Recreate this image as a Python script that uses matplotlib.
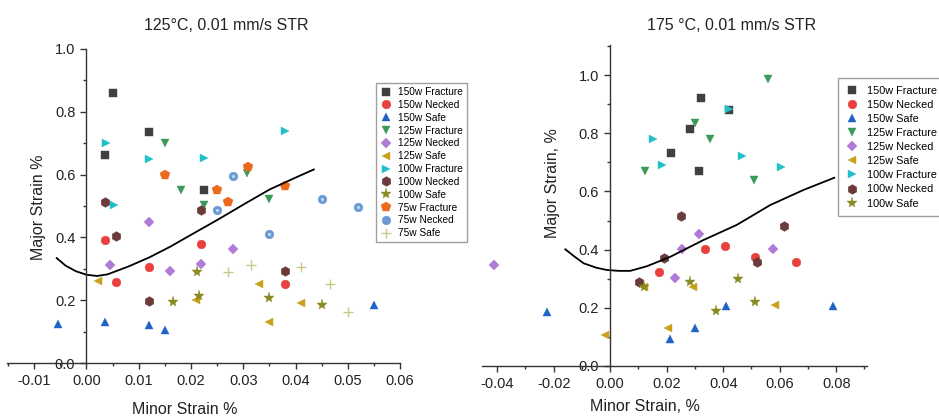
import numpy as np
import matplotlib
matplotlib.use("Agg")
import matplotlib.pyplot as plt
from matplotlib.ticker import MultipleLocator, FormatStrFormatter

plt.rcParams['font.family'] = ['Liberation Sans', 'DejaVu Sans']

# -------------------------------------------------------
# series styles (label, marker, colour)
# -------------------------------------------------------
labels = ["150w Fracture", "150w Necked", "150w Safe",
          "125w Fracture", "125w Necked", "125w Safe",
          "100w Fracture", "100w Necked", "100w Safe",
          "75w Fracture", "75w Necked", "75w Safe"]
markers = ["s", "o", "^", "v", "D", "<", ">", "h", "*", "p", "o", "+"]
colors = ["#404040", "#e8403f", "#1f63c6", "#3a9a5a", "#b07ad8", "#c9a01c",
          "#1fc0c8", "#6b3a3a", "#8a8a22", "#ec6a1c", "#6a9ad4", "#c8c88a"]
msize = {"s": 5.5, "o": 6.3, "^": 6.3, "v": 6.3, "D": 4.8, "<": 6.3,
         ">": 6.3, "h": 7.0, "*": 8.0, "p": 7.2, "+": 7.0}

# -------------------------------------------------------
# 125 C data (minor, major)
# -------------------------------------------------------
left_x = [
    [0.005, 0.0035, 0.012, 0.0225],
    [0.0035, 0.0056, 0.012, 0.022, 0.038],
    [-0.0054, 0.0035, 0.012, 0.015, 0.055],
    [0.015, 0.018, 0.0225, 0.0307, 0.035],
    [0.0045, 0.012, 0.016, 0.022, 0.028],
    [0.0023, 0.021, 0.033, 0.035, 0.041],
    [0.0037, 0.0052, 0.012, 0.0225, 0.038],
    [0.0035, 0.0056, 0.012, 0.022, 0.038],
    [0.0165, 0.0212, 0.0216, 0.035, 0.045],
    [0.015, 0.025, 0.027, 0.0309, 0.038],
    [0.025, 0.028, 0.035, 0.045, 0.052],
    [0.0271, 0.0315, 0.041, 0.0466, 0.050],
]
left_y = [
    [0.86, 0.661, 0.735, 0.552],
    [0.393, 0.258, 0.306, 0.379, 0.253],
    [0.124, 0.130, 0.120, 0.104, 0.185],
    [0.70, 0.552, 0.502, 0.605, 0.522],
    [0.313, 0.449, 0.293, 0.314, 0.364],
    [0.26, 0.199, 0.253, 0.132, 0.192],
    [0.70, 0.502, 0.648, 0.653, 0.739],
    [0.513, 0.403, 0.196, 0.488, 0.294],
    [0.193, 0.289, 0.212, 0.207, 0.184],
    [0.60, 0.552, 0.513, 0.623, 0.563],
    [0.488, 0.594, 0.412, 0.522, 0.497],
    [0.289, 0.312, 0.307, 0.253, 0.161],
]
left_flc_x = [-0.0057, -0.004, -0.002, 0.0, 0.002, 0.004, 0.008, 0.012,
              0.016, 0.02, 0.025, 0.03, 0.035, 0.04, 0.0435]
left_flc_y = [0.334, 0.31, 0.292, 0.281, 0.277, 0.282, 0.307, 0.336,
              0.37, 0.408, 0.455, 0.504, 0.552, 0.59, 0.616]

# -------------------------------------------------------
# 175 C data (minor, major)
# -------------------------------------------------------
right_x = [
    [0.0322, 0.0284, 0.0215, 0.0315, 0.0419],
    [0.0172, 0.0334, 0.0405, 0.0512, 0.0656],
    [-0.0225, 0.0212, 0.0299, 0.041, 0.0788],
    [0.0122, 0.0299, 0.0352, 0.051, 0.056],
    [-0.0413, 0.0228, 0.0254, 0.0314, 0.0575],
    [-0.0019, 0.0206, 0.0119, 0.0294, 0.0582],
    [0.0151, 0.0183, 0.0422, 0.0467, 0.0603],
    [0.0101, 0.0189, 0.0251, 0.0518, 0.0615],
    [0.0119, 0.0283, 0.0374, 0.0452, 0.0513],
]
right_y = [
    [0.922, 0.813, 0.733, 0.671, 0.880],
    [0.323, 0.402, 0.412, 0.376, 0.358],
    [0.184, 0.092, 0.129, 0.205, 0.207],
    [0.669, 0.836, 0.779, 0.641, 0.985],
    [0.347, 0.304, 0.403, 0.454, 0.402],
    [0.105, 0.131, 0.270, 0.271, 0.208],
    [0.780, 0.691, 0.884, 0.722, 0.684],
    [0.289, 0.370, 0.514, 0.358, 0.481],
    [0.272, 0.288, 0.189, 0.300, 0.221],
]
right_flc_x = [-0.0159, -0.0125, -0.0094, -0.005, -0.0012, 0.003, 0.0071,
               0.013, 0.0212, 0.033, 0.0448, 0.0566, 0.0684, 0.0793]
right_flc_y = [0.401, 0.375, 0.353, 0.338, 0.330, 0.327, 0.327,
               0.343, 0.375, 0.433, 0.485, 0.553, 0.605, 0.647]


def style_axes(ax, xlim, ylim, xmaj, xmin, ymaj, ymin, xfmt):
    ax.set_xlim(*xlim)
    ax.set_ylim(*ylim)
    ax.spines['left'].set_position(('data', 0))
    ax.spines['top'].set_visible(False)
    ax.spines['right'].set_visible(False)
    for s in ('left', 'bottom'):
        ax.spines[s].set_color('#333333')
        ax.spines[s].set_linewidth(1.0)
    ax.xaxis.set_major_locator(MultipleLocator(xmaj))
    ax.xaxis.set_minor_locator(MultipleLocator(xmin))
    ax.yaxis.set_major_locator(MultipleLocator(ymaj))
    ax.yaxis.set_minor_locator(MultipleLocator(ymin))
    ax.xaxis.set_major_formatter(FormatStrFormatter(xfmt))
    ax.yaxis.set_major_formatter(FormatStrFormatter('%.1f'))
    ax.set_yticks([v for v in ax.get_yticks() if v <= 1.0 + 1e-9 and v >= 0])
    ax.tick_params(which='major', direction='out', length=4.5, width=1,
                   labelsize=10.5, colors='#333333', labelcolor='#222222')
    ax.tick_params(which='minor', direction='out', length=2.5, width=1,
                   colors='#333333')


def draw_series(ax, xs, ys):
    for i in range(len(xs)):
        m = markers[i]
        ax.plot(xs[i], ys[i], linestyle='none', marker=m, color=colors[i],
                markersize=msize[m], markeredgewidth=1 if m == '+' else 0.3,
                label=labels[i])
        if labels[i] == "75w Necked":
            # little highlight to mimic the sphere symbol
            ax.plot(xs[i], ys[i], linestyle='none', marker='o',
                    color='#c8dcf2', markersize=2.2, markeredgewidth=0)


fig = plt.figure(figsize=(9.39, 4.2), dpi=100)

# ---- left: 125 C ----
ax1 = fig.add_axes([0.0075, 0.1357, 0.4185, 0.748])
draw_series(ax1, left_x, left_y)
ax1.plot(left_flc_x, left_flc_y, color='black', lw=1.3)
style_axes(ax1, (-0.0152, 0.06), (0, 1.0), 0.01, 0.005, 0.2, 0.1, '%.2f')
ax1.set_xlabel("Minor Strain %", fontsize=11.5, color='#222222')
ax1.set_ylabel("Major Strain %", fontsize=11.5, color='#222222')
ax1.xaxis.set_label_coords(0.453, -0.125)
ax1.yaxis.set_label_coords(0.1, 0.497)
ax1.legend(loc='upper left', bbox_to_anchor=(376 / 939, 1 - 83 / 420),
           bbox_transform=fig.transFigure, fontsize=7.3, frameon=True,
           fancybox=False, edgecolor='#888888', labelspacing=0.28,
           handletextpad=0.6, handlelength=1.2, borderpad=0.4,
           borderaxespad=0)
fig.text(226 / 939, 1 - 26 / 420, "125°C, 0.01 mm/s STR", ha='center',
         va='center', fontsize=11.5, color='#222222')

# ---- right: 175 C ----
ax2 = fig.add_axes([0.5133, 0.1286, 0.41, 0.764])
draw_series(ax2, right_x, right_y)
ax2.plot(right_flc_x, right_flc_y, color='black', lw=1.3)
style_axes(ax2, (-0.0454, 0.0909), (0, 1.103), 0.02, 0.01, 0.2, 0.1, '%.2f')
ax2.set_xlabel("Minor Strain, %", fontsize=11.5, color='#222222')
ax2.set_ylabel("Major Strain, %", fontsize=11.5, color='#222222')
ax2.xaxis.set_label_coords(0.423, -0.103)
ax2.yaxis.set_label_coords(0.203, 0.57)
ax2.legend(loc='upper left', bbox_to_anchor=(838 / 939, 1 - 78 / 420),
           bbox_transform=fig.transFigure, fontsize=7.8, frameon=True,
           fancybox=False, edgecolor='#888888', labelspacing=0.38,
           handletextpad=0.8, handlelength=1.2, borderpad=0.7,
           borderaxespad=0)
fig.text(732 / 939, 1 - 25 / 420, "175 °C, 0.01 mm/s STR", ha='center',
         va='center', fontsize=11.5, color='#222222')

fig.savefig("out.png", dpi=100)
